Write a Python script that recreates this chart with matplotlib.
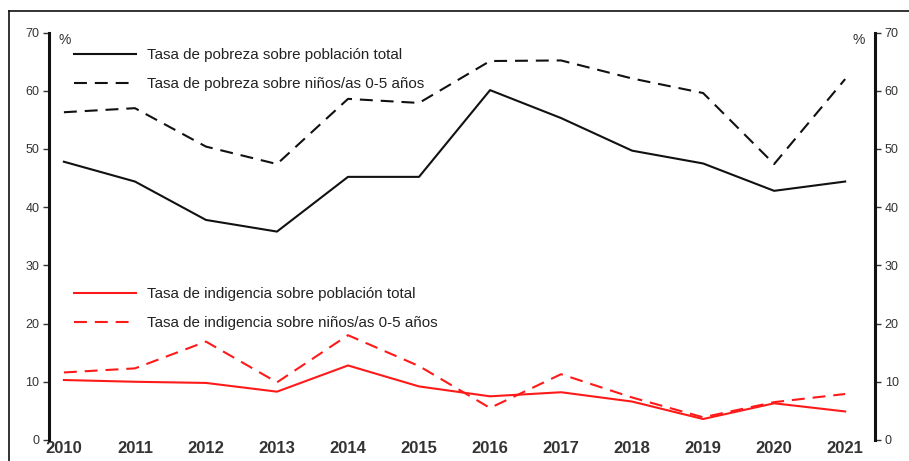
import matplotlib
matplotlib.use("Agg")
import matplotlib.pyplot as plt
from matplotlib.lines import Line2D

plt.rcParams["font.family"] = ["Liberation Sans", "DejaVu Sans"]

# Data (%)
years = [2010, 2011, 2012, 2013, 2014, 2015, 2016, 2017, 2018, 2019, 2020, 2021]
pobreza_total = [47.8, 44.4, 37.8, 35.8, 45.2, 45.2, 60.1, 55.3, 49.7, 47.5, 42.8, 44.4]
pobreza_ninos = [56.3, 57.0, 50.4, 47.4, 58.6, 57.9, 65.1, 65.2, 62.1, 59.6, 47.4, 62.0]
indigencia_total = [10.3, 10.0, 9.8, 8.3, 12.8, 9.2, 7.5, 8.2, 6.6, 3.6, 6.3, 4.9]
indigencia_ninos = [11.6, 12.3, 16.9, 9.9, 18.0, 12.7, 5.5, 11.3, 7.3, 3.9, 6.5, 7.9]

y_ticks = [0, 10, 20, 30, 40, 50, 60, 70]

LABEL_POB_TOT = "Tasa de pobreza sobre población total"
LABEL_POB_NIN = "Tasa de pobreza sobre niños/as 0-5 años"
LABEL_IND_TOT = "Tasa de indigencia sobre población total"
LABEL_IND_NIN = "Tasa de indigencia sobre niños/as 0-5 años"

BLACK = "#111111"
RED = "#ff1a1a"
TEXT = "#333333"
DASH = (0, (6.2, 3.8))


def main():
    fig = plt.figure(figsize=(9.09, 4.61), dpi=100)
    ax = fig.add_axes([0.0539, 0.0456, 0.9087, 0.8839])

    l1, = ax.plot(years, pobreza_total, color=BLACK, lw=1.5, label=LABEL_POB_TOT)
    l2, = ax.plot(years, pobreza_ninos, color=BLACK, lw=1.5, ls=DASH, label=LABEL_POB_NIN)
    l3, = ax.plot(years, indigencia_total, color=RED, lw=1.5, label=LABEL_IND_TOT)
    l4, = ax.plot(years, indigencia_ninos, color=RED, lw=1.5, ls=DASH, label=LABEL_IND_NIN)

    ax.set_xlim(2009.79, 2021.42)
    ax.set_ylim(0, 70)

    # spines: thick left and right, nothing else
    for side in ["top", "bottom"]:
        ax.spines[side].set_visible(False)
    for side in ["left", "right"]:
        ax.spines[side].set_linewidth(2.2)
        ax.spines[side].set_color(BLACK)

    ax.set_yticks(y_ticks)
    ax.set_yticklabels([str(v) for v in y_ticks])
    ax.tick_params(axis="y", which="both", direction="out", length=4, width=1,
                   color=TEXT, labelsize=9, labelcolor=TEXT, pad=3,
                   left=True, right=True, labelleft=True, labelright=True)

    ax.set_xticks(years)
    ax.set_xticklabels([str(y) for y in years])
    ax.tick_params(axis="x", length=0, pad=1, labelsize=12, labelcolor=TEXT)
    for lab in ax.get_xticklabels():
        lab.set_fontweight("bold")

    ax.text(0.012, 1.0, "%", transform=ax.transAxes, fontsize=10, color=TEXT,
            ha="left", va="top")
    ax.text(0.988, 1.0, "%", transform=ax.transAxes, fontsize=10, color=TEXT,
            ha="right", va="top")

    leg_kw = dict(frameon=False, loc="upper left", fontsize=10.9, borderpad=0,
                  borderaxespad=0, handlelength=4.1, handletextpad=0.75,
                  labelspacing=1.0, labelcolor="#222222")
    leg1 = ax.legend(handles=[l1, l2], bbox_to_anchor=(0.03, 0.962), **leg_kw)
    ax.add_artist(leg1)
    ax.legend(handles=[l3, l4], bbox_to_anchor=(0.03, 0.375), **leg_kw)

    # outer frame (top and left edges only)
    fig.add_artist(Line2D([0.0099, 1.0], [0.976, 0.976], transform=fig.transFigure,
                          color=BLACK, lw=1.2))
    fig.add_artist(Line2D([0.0099, 0.0099], [0.0, 0.976], transform=fig.transFigure,
                          color=BLACK, lw=1.2))

    fig.savefig("out.png", dpi=100)
    plt.close(fig)


if __name__ == "__main__":
    main()
